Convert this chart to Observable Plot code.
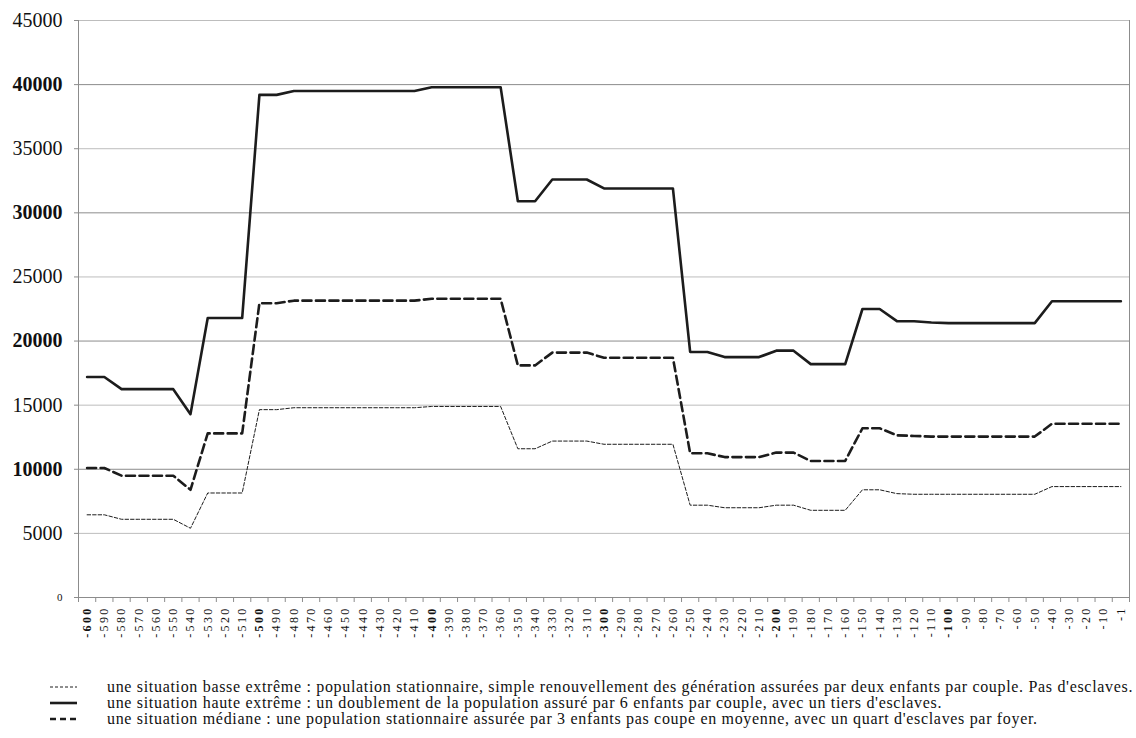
<!DOCTYPE html>
<html><head><meta charset="utf-8">
<script src="https://cdn.jsdelivr.net/npm/d3@7"></script>
<script src="https://cdn.jsdelivr.net/npm/@observablehq/plot@0.6"></script>
<style>
body{margin:0;background:#fff;font-family:"Liberation Serif","Times New Roman",serif;}
#legend{position:relative;margin-top:19px;font-size:16px;line-height:15px;letter-spacing:0.68px;color:#111;}
.row{position:relative;height:16.2px;white-space:nowrap;}
.row svg{position:absolute;left:50px;top:3px;}
.row span{position:absolute;left:107px;top:0;display:inline-block;height:15px;line-height:15px;overflow:visible;}
#chart svg text{font-family:"Liberation Serif","Times New Roman",serif;}
</style></head><body>
<div id="chart"></div>
<div id="legend"></div>
<script>
const labels = ["-600","-590","-580","-570","-560","-550","-540","-530","-520","-510",
  "-500","-490","-480","-470","-460","-450","-440","-430","-420","-410",
  "-400","-390","-380","-370","-360","-350","-340","-330","-320","-310",
  "-300","-290","-280","-270","-260","-250","-240","-230","-220","-210",
  "-200","-190","-180","-170","-160","-150","-140","-130","-120","-110",
  "-100","-90","-80","-70","-60","-50","-40","-30","-20","-10","-1"];
const boldLabels = ["-600","-500","-400","-300","-200","-100"];

const haute = [17200,17200,16250,16250,16250,16250,14300,21800,21800,21800,
  39200,39200,39500,39500,39500,39500,39500,39500,39500,39500,
  39800,39800,39800,39800,39800,30900,30900,32600,32600,32600,
  31900,31900,31900,31900,31900,19150,19150,18750,18750,18750,
  19250,19250,18200,18200,18200,22500,22500,21550,21550,21450,
  21400,21400,21400,21400,21400,21400,23100,23100,23100,23100,23100];
const mediane = [10100,10100,9500,9500,9500,9500,8400,12800,12800,12800,
  22950,22950,23150,23150,23150,23150,23150,23150,23150,23150,
  23300,23300,23300,23300,23300,18100,18100,19100,19100,19100,
  18700,18700,18700,18700,18700,11250,11250,10950,10950,10950,
  11300,11300,10650,10650,10650,13200,13200,12650,12600,12550,
  12550,12550,12550,12550,12550,12550,13550,13550,13550,13550,13550];
const basse = [6450,6450,6100,6100,6100,6100,5400,8150,8150,8150,
  14650,14650,14800,14800,14800,14800,14800,14800,14800,14800,
  14900,14900,14900,14900,14900,11600,11600,12200,12200,12200,
  11950,11950,11950,11950,11950,7200,7200,7000,7000,7000,
  7200,7200,6800,6800,6800,8400,8400,8100,8050,8050,
  8050,8050,8050,8050,8050,8050,8650,8650,8650,8650,8650];

const yTicksLight = [5000,15000,25000,35000,45000];
const yTicksBold = [10000,20000,30000,40000];
const yTickZero = [0];

const legendTexts = [
  "une situation basse extrême : population stationnaire, simple renouvellement des génération assurées par deux enfants par couple. Pas d'esclaves.",
  "une situation haute extrême : un doublement de la population assuré par 6 enfants par couple, avec un tiers d'esclaves.",
  "une situation médiane : une population stationnaire assurée par 3 enfants pas coupe en moyenne, avec un quart d'esclaves par foyer."
];

const rows = arr => arr.map((v, i) => ({i, v}));
const idx = labels.map((_, i) => i);
const boldIdx = idx.filter(i => boldLabels.includes(labels[i]));
const normIdx = idx.filter(i => !boldLabels.includes(labels[i]));
const bounds = d3.range(labels.length + 1).map(i => i - 0.5);

const W = 1136, H = 660;
const ink = "#1c1c1c";
const axisCommonY = {tickSize: 4, tickPadding: 12, stroke: "#8c8c8c", fill: "#111", tickFormat: d => String(d), label: null};
const axisCommonX = {tickSize: 0, tickRotate: -90, tickPadding: 9, fill: "#111", fontSize: 12, tickFormat: i => labels[i], label: null};

const chart = Plot.plot({
  width: W, height: H,
  marginLeft: 78, marginRight: 7, marginTop: 20, marginBottom: H - 597,
  x: {domain: [-0.5, labels.length - 0.5], label: null},
  y: {domain: [0, 45000], label: null},
  style: {fontFamily: "Liberation Serif", color: "#111", background: "#fff", overflow: "visible"},
  marks: [
    Plot.gridY(yTicksLight, {stroke: "#bdbdbd", strokeOpacity: 1}),
    Plot.gridY(yTicksBold, {stroke: "#8c8c8c", strokeOpacity: 1}),
    Plot.ruleX([-0.5, labels.length - 0.5], {stroke: "#8c8c8c"}),
    Plot.ruleY([0], {stroke: "#8c8c8c"}),
    Plot.line(rows(basse), {x: "i", y: "v", stroke: ink, strokeWidth: 1, strokeDasharray: "3.5,2"}),
    Plot.line(rows(mediane), {x: "i", y: "v", stroke: ink, strokeWidth: 2.6, strokeDasharray: "9,4.5"}),
    Plot.line(rows(haute), {x: "i", y: "v", stroke: ink, strokeWidth: 2.6}),
    Plot.axisY(yTicksLight, {...axisCommonY, fontSize: 20}),
    Plot.axisY(yTicksBold, {...axisCommonY, fontSize: 20, fontWeight: "bold"}),
    Plot.axisY(yTickZero, {...axisCommonY, fontSize: 11}),
    Plot.axisX(bounds, {tickSize: 5, stroke: "#8c8c8c", tickFormat: () => "", label: null}),
    Plot.axisX(normIdx, {...axisCommonX}),
    Plot.axisX(boldIdx, {...axisCommonX, fontWeight: "bold"})
  ]
});
chart.querySelectorAll('g[aria-label="x-axis tick label"] text').forEach(t => t.setAttribute("letter-spacing", "2.3"));
document.getElementById("chart").append(chart);

const legendStyles = [
  {w: 1, dash: "3,2"},
  {w: 2.6, dash: null},
  {w: 2.6, dash: "6,4"}
];
const legend = document.getElementById("legend");
legendTexts.forEach((txt, k) => {
  const row = document.createElement("div");
  row.className = "row";
  const s = legendStyles[k];
  row.innerHTML = `<svg width="27" height="10"><line x1="0" x2="27" y1="5" y2="5" stroke="${ink}" stroke-width="${s.w}" ${s.dash ? `stroke-dasharray="${s.dash}"` : ""}/></svg>`;
  const span = document.createElement("span");
  span.textContent = txt;
  row.append(span);
  legend.append(row);
});
</script></body></html>
